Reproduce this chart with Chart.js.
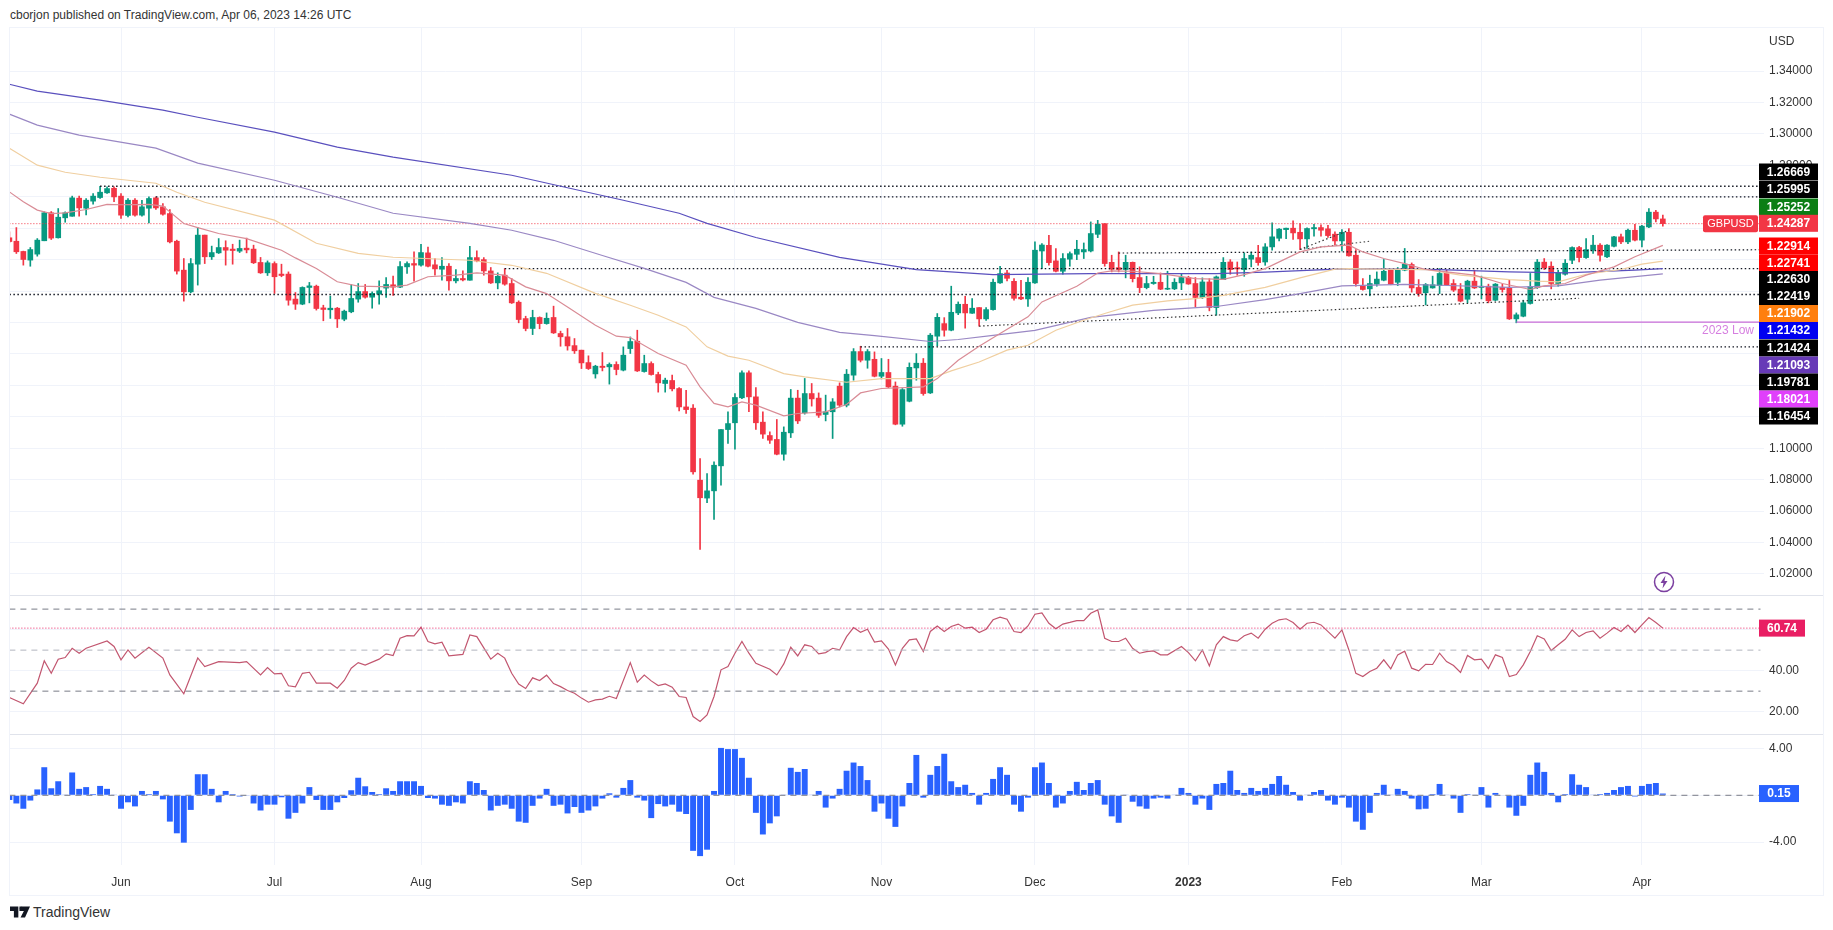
<!DOCTYPE html>
<html>
<head>
<meta charset="utf-8">
<title>GBPUSD</title>
<script src="https://cdn.jsdelivr.net/npm/chart.js@4/dist/chart.umd.js"></script>
<style>
    html, body { margin: 0; background: #fff; width: 1833px; height: 930px; overflow: hidden; font-family: "Liberation Sans", sans-serif; color: #131722; }
    canvas { position: absolute; left: 0; }
    .txt { position: absolute; font-size: 12px; white-space: nowrap; }
    .rule { position: absolute; left: 10px; width: 1813px; height: 1px; background: #e0e3eb; }
    #strip { position: absolute; left: 0; top: 27px; width: 9px; height: 869px; background: #fff; }
    #frame { position: absolute; left: 9px; top: 27px; width: 1813px; height: 867px; border: 1px solid #f0f3fa; pointer-events: none; }
</style>
</head>
<body>
<canvas id="priceChart" width="1833" height="569" style="top:27px"></canvas>
<canvas id="rsiChart" width="1833" height="138" style="top:596px"></canvas>
<canvas id="macdChart" width="1833" height="161" style="top:734px"></canvas>
<div id="strip"></div>
<div id="frame"></div>
<div class="rule" style="top:595px"></div>
<div class="rule" style="top:734px"></div>
<div class="txt" style="left:10px;top:8px;color:#333">cborjon published on TradingView.com, Apr 06, 2023 14:26 UTC</div>
<div class="txt" style="left:1769px;top:34px;color:#333">USD</div>
<svg style="position:absolute;left:1653px;top:571px" width="22" height="22" viewBox="0 0 22 22">
    <circle cx="11" cy="11" r="9.5" fill="#fff" stroke="#7b3fa0" stroke-width="1.5"/>
    <path d="M12.5 4.5 L7.5 12 H10.5 L9.5 17.5 L14.5 10 H11.5 Z" fill="#7b3fa0"/>
</svg>
<svg style="position:absolute;left:10px;top:906px" width="20" height="12" viewBox="0 0 36 20">
    <path d="M0 0 H15 V20 H7 V8 H0 Z M17 0 H36 L27 20 H19 L25 8 H17 Z" fill="#131722"/>
    <circle cx="21" cy="4" r="3.5" fill="#131722"/>
</svg>
<div class="txt" style="left:33px;top:904px;font-size:14px;color:#333">TradingView</div>

<script>
const barCount = 252;
const monthDays = [16, 38, 59, 82, 104, 125, 147, 169, 191, 211, 234];
const monthNames = ['Jun', 'Jul', 'Aug', 'Sep', 'Oct', 'Nov', 'Dec', '2023', 'Feb', 'Mar', 'Apr'];

const opens = [1.2339,1.2317,1.2252,1.2197,1.2235,1.2320,1.2498,1.2339,1.2466,1.2476,
    1.2591,1.2527,1.2572,1.2595,1.2625,1.2654,1.2604,1.2481,1.2578,1.2483,
    1.2527,1.2593,1.2536,1.2493,1.2317,1.2133,1.1995,1.2171,1.2356,1.2218,
    1.2243,1.2277,1.2267,1.2254,1.2273,1.2267,1.2182,1.2116,1.2175,1.2108,
    1.2108,1.1949,1.1917,1.2023,1.2031,1.1893,1.1881,1.1891,1.1821,1.1868,
    1.1949,1.1997,1.1961,1.1980,1.2019,1.2040,1.2025,1.2154,1.2175,1.2165,
    1.2243,1.2167,1.2139,1.2158,1.2065,1.2080,1.2069,1.2213,1.2200,1.2128,
    1.2052,1.2101,1.2048,1.1929,1.1825,1.1762,1.1832,1.1793,1.1832,1.1730,
    1.1709,1.1653,1.1624,1.1545,1.1473,1.1522,1.1518,1.1533,1.1497,1.1634,
    1.1681,1.1488,1.1539,1.1469,1.1412,1.1431,1.1380,1.1263,1.1255,1.0797,
    1.0683,1.0729,1.0888,1.1119,1.1162,1.1321,1.1480,1.1327,1.1166,1.1081,
    1.1056,1.0962,1.1098,1.1319,1.1225,1.1348,1.1319,1.1215,1.1232,1.1395,
    1.1274,1.1465,1.1615,1.1560,1.1566,1.1458,1.1482,1.1395,1.1153,1.1299,
    1.1511,1.1541,1.1352,1.1713,1.1793,1.1751,1.1861,1.1916,1.1859,1.1895,
    1.1823,1.1882,1.2052,1.2115,1.2062,1.1961,1.1950,1.2052,1.2255,1.2291,
    1.2192,1.2126,1.2203,1.2234,1.2249,1.2255,1.2361,1.2429,1.2183,1.2149,
    1.2137,1.2183,1.2086,1.2022,1.2048,1.2056,1.2012,1.2014,1.2052,1.2086,
    1.2048,1.1959,1.2058,1.1895,1.2073,1.2185,1.2149,1.2137,1.2203,1.2213,
    1.2185,1.2281,1.2336,1.2391,1.2400,1.2374,1.2332,1.2396,1.2404,1.2396,
    1.2362,1.2319,1.2374,1.2228,1.2035,1.2014,1.2044,1.2069,1.2133,1.2056,
    1.2133,1.2169,1.2023,1.1989,1.2020,1.2035,1.2116,1.2048,1.2012,1.1948,
    1.2063,1.2023,1.2031,1.1942,1.2023,1.2018,1.1823,1.1840,1.1921,1.2023,
    1.2184,1.2158,1.2048,1.2107,1.2196,1.2277,1.2213,1.2260,1.2292,1.2218,
    1.2285,1.2345,1.2313,1.2387,1.2324,1.2408,1.2502,1.2459];

const highs = [1.2377,1.2404,1.2254,1.2277,1.2334,1.2504,1.2506,1.2525,1.2504,1.2604,
    1.2604,1.2589,1.2621,1.2667,1.2663,1.2663,1.2621,1.2589,1.2589,1.2578,
    1.2599,1.2599,1.2557,1.2519,1.2324,1.2207,1.2207,1.2404,1.2356,1.2286,
    1.2334,1.2320,1.2298,1.2324,1.2337,1.2292,1.2214,1.2192,1.2186,1.2171,
    1.2122,1.1991,1.2027,1.2055,1.2038,1.1910,1.1968,1.1896,1.1879,1.2042,
    1.2048,1.2042,1.1995,1.2065,1.2086,1.2095,1.2188,1.2186,1.2250,1.2298,
    1.2280,1.2207,1.2213,1.2175,1.2137,1.2128,1.2285,1.2256,1.2213,1.2150,
    1.2116,1.2143,1.2080,1.1938,1.1840,1.1878,1.1836,1.1861,1.1904,1.1745,
    1.1762,1.1698,1.1624,1.1588,1.1528,1.1609,1.1543,1.1550,1.1645,1.1708,
    1.1751,1.1592,1.1550,1.1484,1.1446,1.1465,1.1386,1.1369,1.1278,1.0935,
    1.0839,1.0914,1.1119,1.1232,1.1348,1.1492,1.1492,1.1386,1.1232,1.1104,
    1.1183,1.1136,1.1374,1.1369,1.1444,1.1412,1.1352,1.1338,1.1316,1.1416,
    1.1501,1.1634,1.1649,1.1628,1.1613,1.1571,1.1566,1.1422,1.1380,1.1543,
    1.1602,1.1571,1.1730,1.1857,1.1831,1.2031,1.1931,1.1967,1.1952,1.1895,
    1.1895,1.2077,1.2158,1.2132,1.2079,1.2069,1.2086,1.2313,1.2302,1.2355,
    1.2270,1.2238,1.2249,1.2323,1.2306,1.2440,1.2450,1.2429,1.2228,1.2249,
    1.2228,1.2185,1.2154,1.2094,1.2094,1.2115,1.2126,1.2079,1.2111,1.2094,
    1.2086,1.2084,1.2079,1.2096,1.2213,1.2200,1.2185,1.2243,1.2249,1.2291,
    1.2302,1.2434,1.2398,1.2400,1.2447,1.2430,1.2402,1.2425,1.2421,1.2419,
    1.2377,1.2391,1.2398,1.2264,1.2080,1.2101,1.2122,1.2201,1.2139,1.2150,
    1.2271,1.2179,1.2073,1.2048,1.2095,1.2143,1.2133,1.2073,1.2048,1.2069,
    1.2133,1.2095,1.2044,1.2048,1.2044,1.2069,1.1861,1.1942,1.2112,1.2201,
    1.2207,1.2186,1.2133,1.2201,1.2281,1.2285,1.2334,1.2355,1.2302,1.2296,
    1.2349,1.2362,1.2394,1.2425,1.2419,1.2525,1.2514,1.2483];

const lows = [1.2307,1.2239,1.2165,1.2158,1.2222,1.2320,1.2328,1.2337,1.2438,1.2476,
    1.2476,1.2485,1.2553,1.2589,1.2621,1.2568,1.2462,1.2472,1.2476,1.2476,
    1.2434,1.2519,1.2483,1.2307,1.2108,1.1936,1.1989,1.2038,1.2175,1.2201,
    1.2239,1.2165,1.2171,1.2245,1.2243,1.2175,1.2112,1.2099,1.1985,1.2091,
    1.1910,1.1883,1.1913,1.1925,1.1879,1.1811,1.1826,1.1768,1.1811,1.1862,
    1.1929,1.1955,1.1891,1.1917,1.1959,1.1972,1.2021,1.2112,1.2063,1.2158,
    1.2154,1.2101,1.2069,1.2005,1.2052,1.2065,1.2069,1.2186,1.2101,1.2048,
    1.2014,1.2037,1.1921,1.1798,1.1747,1.1723,1.1760,1.1789,1.1730,1.1649,
    1.1624,1.1603,1.1507,1.1501,1.1446,1.1492,1.1408,1.1467,1.1492,1.1603,
    1.1488,1.1484,1.1465,1.1357,1.1357,1.1365,1.1238,1.1221,1.0835,1.0356,
    1.0653,1.0547,1.0765,1.1030,1.0994,1.1316,1.1232,1.1119,1.1062,1.1030,
    1.0958,1.0924,1.1068,1.1157,1.1217,1.1268,1.1196,1.1174,1.1062,1.1263,
    1.1263,1.1433,1.1549,1.1509,1.1454,1.1441,1.1386,1.1149,1.1140,1.1295,
    1.1433,1.1337,1.1348,1.1651,1.1713,1.1747,1.1850,1.1764,1.1857,1.1776,
    1.1814,1.1878,1.2048,1.2065,1.1942,1.1946,1.1903,1.2048,1.2143,1.2164,
    1.2122,1.2107,1.2158,1.2200,1.2207,1.2249,1.2340,1.2158,1.2122,1.2122,
    1.2084,1.2058,1.1990,1.2014,1.2043,1.2009,1.2009,1.2009,1.2009,1.2043,
    1.1899,1.1952,1.1874,1.1846,1.2073,1.2107,1.2101,1.2094,1.2154,1.2164,
    1.2164,1.2260,1.2319,1.2334,1.2328,1.2264,1.2271,1.2349,1.2349,1.2341,
    1.2292,1.2256,1.2222,1.2031,1.2006,1.1970,1.2031,1.2065,1.2040,1.2035,
    1.2129,1.1993,1.1967,1.1912,1.2018,1.1984,1.2035,1.1997,1.1931,1.1925,
    1.2016,1.1950,1.1925,1.1938,1.1993,1.1819,1.1798,1.1836,1.1917,1.2016,
    1.2137,1.2014,1.2031,1.2101,1.2175,1.2186,1.2207,1.2239,1.2190,1.2213,
    1.2281,1.2302,1.2302,1.2319,1.2281,1.2404,1.2440,1.2413];

const closes = [1.2315,1.2250,1.2201,1.2264,1.2324,1.2498,1.2337,1.2470,1.2498,1.2593,
    1.2529,1.2578,1.2604,1.2629,1.2652,1.2599,1.2483,1.2578,1.2483,1.2536,
    1.2589,1.2529,1.2489,1.2313,1.2127,1.1995,1.2175,1.2356,1.2218,1.2245,
    1.2277,1.2260,1.2258,1.2271,1.2262,1.2180,1.2116,1.2180,1.2091,1.2099,
    1.1942,1.1917,1.2023,1.2033,1.1889,1.1883,1.1891,1.1823,1.1872,1.1953,
    1.1997,1.1961,1.1985,1.2002,1.2042,1.2025,1.2156,1.2175,1.2165,1.2245,
    1.2158,1.2141,1.2158,1.2065,1.2080,1.2071,1.2213,1.2192,1.2128,1.2052,
    1.2094,1.2044,1.1925,1.1819,1.1762,1.1832,1.1793,1.1827,1.1734,1.1709,
    1.1651,1.1620,1.1543,1.1507,1.1522,1.1514,1.1533,1.1501,1.1592,1.1679,
    1.1492,1.1539,1.1469,1.1416,1.1433,1.1378,1.1263,1.1246,1.0850,1.0685,
    1.0729,1.0892,1.1119,1.1157,1.1323,1.1480,1.1327,1.1162,1.1090,1.1051,
    1.0962,1.1102,1.1319,1.1174,1.1348,1.1314,1.1210,1.1232,1.1295,1.1274,
    1.1471,1.1615,1.1560,1.1615,1.1458,1.1482,1.1390,1.1153,1.1373,1.1515,
    1.1541,1.1348,1.1719,1.1833,1.1751,1.1865,1.1916,1.1861,1.1891,1.1823,
    1.1882,1.2056,1.2111,1.2081,1.1954,1.1950,1.2056,1.2260,1.2293,1.2181,
    1.2126,1.2207,1.2238,1.2266,1.2264,1.2366,1.2425,1.2175,1.2139,1.2137,
    1.2183,1.2079,1.2022,1.2048,1.2056,1.2012,1.2018,1.2056,1.2086,1.2045,
    1.1959,1.2058,1.1895,1.2090,1.2183,1.2137,1.2141,1.2207,1.2228,1.2181,
    1.2281,1.2345,1.2394,1.2400,1.2370,1.2332,1.2398,1.2404,1.2387,1.2353,
    1.2319,1.2374,1.2224,1.2048,1.2010,1.2048,1.2076,1.2126,1.2044,1.2137,
    1.2171,1.2020,1.1984,1.2042,1.2040,1.2112,1.2040,1.2006,1.1936,1.2063,
    1.2020,1.2031,1.1938,1.2044,1.2010,1.1823,1.1849,1.1925,1.2029,1.2184,
    1.2148,1.2048,1.2116,1.2177,1.2277,1.2213,1.2264,1.2292,1.2228,1.2292,
    1.2345,1.2313,1.2387,1.2324,1.2413,1.2502,1.2459,1.2429];

const ema20Days = [0,2,4,6,8,11,14,16,20,22,23,25,27,30,34,39,41,44,47,50,55,57,60,64,67,71,74,77,80,84,87,89,93,97,99,101,103,105,107,111,113,117,120,122,125,131,133,136,139,142,146,148,153,156,158,161,165,170,174,177,180,185,188,192,194,197,200,203,206,210,214,218,220,223,226,230,233,237];
const ema20Values = [1.2631,1.2568,1.2515,1.2493,1.2498,1.2519,1.2551,1.2549,1.2551,1.2540,1.2504,1.2430,1.2404,1.2366,1.2334,1.2260,1.2211,1.2144,1.2059,1.2031,1.2027,1.2038,1.2091,1.2101,1.2116,1.2101,1.2027,1.1984,1.1899,1.1783,1.1713,1.1704,1.1603,1.1528,1.1391,1.1285,1.1263,1.1295,1.1274,1.1206,1.1221,1.1232,1.1278,1.1352,1.1380,1.1390,1.1443,1.1560,1.1649,1.1730,1.1836,1.1931,1.2031,1.2115,1.2128,1.2126,1.2111,1.2079,1.2075,1.2105,1.2143,1.2249,1.2281,1.2292,1.2249,1.2207,1.2175,1.2137,1.2122,1.2101,1.2048,1.2010,1.2033,1.2048,1.2101,1.2154,1.2218,1.2291];

const ema50Days = [0,4,8,13,21,24,28,38,44,50,55,66,72,77,84,89,93,97,100,103,106,111,114,120,125,132,135,139,143,146,150,154,157,161,166,170,174,180,185,190,192,196,203,208,215,219,222,226,231,234,237];
const ema50Values = [1.2909,1.2801,1.2756,1.2724,1.2686,1.2629,1.2565,1.2451,1.2304,1.2240,1.2215,1.2196,1.2164,1.2113,1.1985,1.1910,1.1846,1.1772,1.1645,1.1586,1.1560,1.1475,1.1454,1.1420,1.1443,1.1443,1.1492,1.1549,1.1624,1.1655,1.1751,1.1814,1.1857,1.1910,1.1937,1.1952,1.1973,1.2023,1.2084,1.2139,1.2143,1.2139,1.2137,1.2101,1.2073,1.2063,1.2059,1.2107,1.2137,1.2171,1.2190];

const ema100Days = [0,4,10,21,27,38,47,55,66,72,78,85,91,97,101,107,113,119,124,132,136,141,147,155,164,173,180,185,191,200,205,215,222,228,237];
const ema100Values = [1.3126,1.3056,1.2992,1.2909,1.2814,1.2705,1.2597,1.2495,1.2431,1.2387,1.2323,1.2226,1.2144,1.2055,1.1960,1.1890,1.1801,1.1737,1.1717,1.1679,1.1692,1.1718,1.1750,1.1833,1.1877,1.1902,1.1946,1.1984,1.2033,1.2042,1.2037,1.2023,1.2033,1.2069,1.2109];

const ema200Days = [0,4,13,22,27,38,47,55,72,88,96,100,107,119,130,141,155,173,180,192,205,215,223,233,237];
const ema200Values = [1.3316,1.3272,1.3215,1.3151,1.3106,1.3011,1.2916,1.2852,1.2737,1.2578,1.2495,1.2431,1.2341,1.2214,1.2137,1.2105,1.2111,1.2111,1.2120,1.2143,1.2137,1.2122,1.2116,1.2133,1.2143];

const rsiDays = [0,2,4,5,6,7,8,9,10,11,14,15,16,17,18,20,22,23,25,27,28,30,33,34,36,37,38,39,40,41,42,43,44,46,47,48,49,50,51,53,54,55,56,57,58,59,60,61,62,63,65,66,67,69,70,71,72,73,74,75,76,77,78,79,80,81,82,83,84,85,86,87,89,90,91,92,93,94,95,96,97,98,99,100,101,102,103,104,105,106,107,109,110,111,112,113,114,115,116,117,118,119,120,121,122,123,124,125,126,127,128,129,130,131,132,133,134,135,136,137,138,139,140,141,142,143,144,145,146,147,148,149,150,151,152,153,154,155,156,157,158,159,160,161,162,163,164,165,166,168,169,170,171,172,173,174,175,176,177,178,179,180,181,182,183,184,185,186,187,188,190,191,192,193,194,195,196,197,198,199,200,201,202,203,204,205,206,207,208,209,210,211,212,213,214,215,216,217,218,219,220,221,222,223,224,225,226,227,228,229,230,231,232,233,234,235,236,237];
const rsiValues = [26.9,23.8,33.9,44.8,38.7,45.6,46.4,50.9,48.5,50.9,54.5,51.8,45.3,50.1,46.1,51.4,46.1,37.9,28.7,46.2,42.0,44.4,43.9,44.4,37.9,41.5,38.4,38.7,32.6,32.1,38.7,39.2,33.9,33.9,31.4,35.2,41.2,43.9,42.7,45.6,48.2,47.4,55.8,57.1,57.0,61.2,54.2,53.1,53.9,47.2,47.9,57.4,56.6,45.6,48.5,46.1,38.7,33.5,31.3,36.5,35.2,37.8,33.7,32.2,30.3,29.0,26.6,24.6,25.7,26.1,27.5,26.4,43.9,34.4,37.8,35.0,32.7,33.5,31.9,27.4,26.9,17.6,15.2,18.4,27.4,40.4,42.0,48.5,54.2,48.5,43.6,40.7,37.9,43.3,51.4,47.2,52.6,51.8,48.2,48.8,50.9,50.1,56.6,61.0,58.7,60.2,53.9,54.5,50.5,42.8,50.9,55.0,55.5,49.3,59.1,61.8,59.1,61.5,62.7,60.7,61.2,58.6,60.2,64.8,66.1,65.1,59.1,58.6,61.8,67.5,68.2,63.1,60.4,62.7,63.5,64.4,64.4,68.0,69.6,55.8,54.2,54.2,55.8,50.9,48.5,49.3,49.6,47.7,47.7,51.8,48.8,44.8,50.1,42.3,52.6,56.6,55.0,54.4,57.0,58.3,55.8,60.2,63.1,64.8,65.3,63.5,60.2,63.1,63.6,62.3,55.8,59.9,50.1,38.7,37.1,39.6,41.2,45.3,40.9,47.7,49.5,41.2,39.9,43.1,43.0,48.5,44.4,42.5,39.1,47.4,45.3,45.6,41.0,47.7,46.4,37.1,38.1,42.8,49.3,57.0,55.5,49.8,52.6,55.3,59.9,56.6,58.6,59.4,55.8,58.3,61.0,59.1,62.2,58.6,62.3,65.9,63.5,60.74];

const macdValues = [-0.4,-0.7,-1.15,-0.45,0.5,2.4,0.6,1.2,0.03,1.95,0.55,0.7,0.1,0.8,0.55,0.03,-1.15,-0.6,-0.95,0.37,
    0.1,0.37,-0.35,-2.25,-3.25,-4.05,-1.25,1.8,1.8,0.55,-0.6,0.37,0.1,-0.1,-0.03,-0.7,-1.3,-0.8,-0.8,-0.17,
    -2.0,-1.5,-0.7,0.7,-0.4,-1.25,-1.25,-0.6,-0.23,0.43,1.5,0.77,0.28,0.1,0.6,0.37,1.2,1.2,1.2,0.8,
    -0.23,-0.28,-0.8,-0.9,-0.6,-0.7,1.2,1.05,0.45,-1.3,-0.9,-0.8,-1.15,-2.25,-2.35,-0.9,-0.28,0.55,-0.9,-0.8,
    -1.55,-1.0,-1.5,-1.3,-0.95,-0.28,0.17,-0.2,0.63,1.3,-0.2,-0.45,-1.95,-0.75,-0.95,-0.8,-1.4,-1.6,-4.75,-5.2,
    -4.65,0.37,4.05,3.95,3.95,3.2,1.5,-1.5,-3.35,-2.4,-1.8,0.03,2.35,2.0,2.25,0.03,0.37,-1.05,-0.28,0.55,
    2.1,2.8,2.5,1.3,-1.4,-0.7,-2.0,-2.7,-0.95,1.05,3.45,-0.2,1.75,2.5,3.55,1.2,0.7,0.9,0.2,-0.8,
    0.2,1.4,2.4,1.75,-0.8,-1.4,-0.2,2.4,2.8,1.05,-1.05,-0.7,0.37,1.15,0.45,1.05,1.3,-0.8,-1.8,-2.35,
    0.03,-0.55,-0.95,-1.15,-0.28,-0.2,-0.28,0.03,0.63,0.2,-0.8,-0.28,-1.25,0.97,1.05,2.1,0.45,0.2,0.63,0.37,
    0.63,0.97,1.65,0.9,0.28,-0.45,0.03,0.28,0.45,-0.45,-0.8,-0.2,-1.05,-2.25,-2.95,-1.5,0.2,0.9,0.03,0.55,
    0.37,-0.28,-1.2,-1.15,0.1,0.97,0.03,-0.28,-1.5,0.1,0.03,0.7,-1.05,0.2,-0.05,-1.05,-1.75,-0.9,1.75,2.8,
    2.0,0.2,-0.6,0.1,1.8,0.9,0.7,0.03,0.1,0.2,0.45,0.7,0.8,-0.1,0.8,0.97,1.05,0.15];

const priceTicks = [1.02, 1.04, 1.06, 1.08, 1.10, 1.12, 1.14, 1.16, 1.18, 1.20, 1.22, 1.24, 1.26, 1.28, 1.30, 1.32, 1.34];
const rsiTicks = [20, 40, 60];
const macdTicks = [-4, 0, 4];

// horizontal levels: price and the day they start on
const levelPrices = [1.26669, 1.25995, 1.21424, 1.19781, 1.16454];
const levelStarts = [13, 21, 71, 0, 122];
const lastPrice = 1.24287;
const yearLow = 1.18021;
const yearLowStart = 216;

// hand drawn trend lines: first day, first price, last day, last price
const supportLine = [139, 1.1777, 225, 1.1954];
const februaryTop = [159, 1.2242, 251, 1.2263];
const januaryRise = [185, 1.2265, 192, 1.2387];
const januaryFlat = [185, 1.2265, 195, 1.2317];

const tagValues = [1.26669, 1.25995, 1.25252, 1.24287, 1.22914, 1.22741, 1.22630, 1.22419, 1.21902, 1.21432, 1.21424, 1.21093, 1.19781, 1.18021, 1.16454];
const tagColors = ['#000', '#000', '#0b7e14', '#f23645', '#f00', '#f00', '#000', '#000', '#ff7f0e', '#0000f0', '#000', '#673ab7', '#000', '#e040fb', '#000'];
const tagRows = [172, 189.5, 207, 223.3, 246, 263, 279.5, 296.5, 313.5, 330.5, 348, 365, 382, 399, 416];
const rsiLast = 60.74;
const macdLast = 0.15;

const FONT = '"Liberation Sans", sans-serif';
const CANDLE_UP = '#089981';
const CANDLE_DOWN = '#f23645';
const GRID = '#f0f3fa';

Chart.defaults.font.family = FONT;
Chart.defaults.font.size = 12;
Chart.defaults.color = '#333';
Chart.defaults.animation = false;

const labels = Array(barCount).fill('');
monthDays.forEach((day, i) => { labels[day] = monthNames[i]; });

// puts read values on their days, the gaps are spanned by the line
function onDays(days, values) {
    const out = Array(barCount).fill(null);
    days.forEach((day, i) => { out[day] = values[i]; });
    return out;
}

function lineSet(days, values, color, width, dash) {
    return {
        type: 'line', data: onDays(days, values), borderColor: color, borderWidth: width,
        borderDash: dash || [], pointRadius: 0, spanGaps: true, tension: 0, order: 1
    };
}

function level(value, start, color, width, dash) {
    return lineSet([start, barCount - 1], [value, value], color, width, dash);
}

function trend(line, color) {
    return lineSet([line[0], line[2]], [line[1], line[3]], color, 1.2, [1.5, 2.5]);
}

function xAxis(showLabels) {
    return {
        type: 'category', offset: true,
        border: { display: false },
        grid: {
            offset: false, drawTicks: false,
            color: ctx => monthDays.includes(ctx.index) ? GRID : 'transparent'
        },
        ticks: {
            display: showLabels, autoSkip: false, maxRotation: 0, padding: 10,
            color: '#333',
            font: ctx => ({ family: FONT, size: 12, weight: ctx.tick && ctx.tick.label === '2023' ? 'bold' : 'normal' })
        },
        afterFit: scale => {
            scale.height = showLabels ? 30 : 0;
            scale.paddingLeft = 0;
            scale.paddingRight = 0;
        }
    };
}

// the labels behind the price tags are left out
function yAxis(min, max, ticks, digits, hideLabel) {
    return {
        position: 'right', min, max,
        border: { display: false },
        grid: { color: GRID, drawTicks: false },
        ticks: { padding: 5, color: '#333', callback: v => (hideLabel && hideLabel(v)) ? '' : v.toFixed(digits) },
        afterBuildTicks: scale => { scale.ticks = ticks.map(value => ({ value })); },
        afterFit: scale => {
            scale.width = 69;
            scale.paddingTop = 0;
            scale.paddingBottom = 0;
        }
    };
}

function drawTag(ctx, x, y, w, text, color) {
    ctx.fillStyle = color;
    ctx.fillRect(x, y - 8.5, w, 17);
    ctx.fillStyle = '#fff';
    ctx.font = 'bold 12px ' + FONT;
    ctx.textAlign = 'center';
    ctx.textBaseline = 'middle';
    ctx.fillText(text, x + w / 2, y + 0.5);
}

const priceTags = {
    id: 'priceTags',
    afterDraw(chart) {
        const { ctx, scales } = chart;
        const top = chart.canvas.getBoundingClientRect().top;
        ctx.save();
        tagValues.forEach((v, i) => drawTag(ctx, 1759, tagRows[i] - top, 59, v.toFixed(5), tagColors[i]));
        ctx.fillStyle = CANDLE_DOWN;
        ctx.beginPath();
        ctx.roundRect(1703, scales.y.getPixelForValue(lastPrice) - 8.5, 55, 17, 2);
        ctx.fill();
        ctx.fillStyle = '#fff';
        ctx.font = '11px ' + FONT;
        ctx.textAlign = 'center';
        ctx.textBaseline = 'middle';
        ctx.fillText('GBPUSD', 1730.5, scales.y.getPixelForValue(lastPrice) + 0.5);
        ctx.fillStyle = '#d67fe0';
        ctx.font = '12px ' + FONT;
        ctx.fillText('2023 Low', 1728, scales.y.getPixelForValue(yearLow) + 9);
        ctx.restore();
    }
};

const rsiTag = {
    id: 'rsiTag',
    afterDraw(chart) {
        chart.ctx.save();
        drawTag(chart.ctx, 1759, chart.scales.y.getPixelForValue(rsiLast), 46, rsiLast.toFixed(2), '#e91e63');
        chart.ctx.restore();
    }
};

const macdTag = {
    id: 'macdTag',
    afterDraw(chart) {
        chart.ctx.save();
        drawTag(chart.ctx, 1759, chart.scales.y.getPixelForValue(macdLast), 40, macdLast.toFixed(2), '#2962ff');
        chart.ctx.restore();
    }
};

const candleColors = opens.map((o, i) => closes[i] >= o ? CANDLE_UP : CANDLE_DOWN);

new Chart(document.getElementById('priceChart'), {
    type: 'bar',
    plugins: [priceTags],
    data: {
        labels,
        datasets: [
            { data: lows.map((l, i) => [l, highs[i]]), backgroundColor: candleColors, barThickness: 1, grouped: false, order: 3 },
            { data: opens.map((o, i) => [o, closes[i]]), backgroundColor: candleColors, barThickness: 5, grouped: false, order: 2 },
            lineSet(ema20Days, ema20Values, '#d98c96', 1.2),
            lineSet(ema50Days, ema50Values, '#f0cfa0', 1.2),
            lineSet(ema100Days, ema100Values, '#9a88c4', 1.2),
            lineSet(ema200Days, ema200Values, '#5a50be', 1.2),
            ...levelPrices.map((p, i) => level(p, levelStarts[i], '#131722', 1.3, [1.5, 2.5])),
            level(lastPrice, 0, '#f23645', 1, [1, 2]),
            level(yearLow, yearLowStart, '#c86dd7', 1.4),
            trend(supportLine, '#333'),
            trend(februaryTop, '#131722'),
            trend(januaryRise, '#333'),
            trend(januaryFlat, '#555')
        ]
    },
    options: {
        responsive: false,
        devicePixelRatio: 1,
        layout: { padding: { left: 5.9 } },
        plugins: { legend: { display: false }, tooltip: { enabled: false } },
        scales: {
            x: xAxis(false),
            y: yAxis(1.0060, 1.3680, priceTicks, 5, v => v > 1.11 && v < 1.27)
        }
    }
});

new Chart(document.getElementById('rsiChart'), {
    type: 'line',
    plugins: [rsiTag],
    data: {
        labels,
        datasets: [
            level(70, 0, '#787b86', 1, [6, 5]),
            level(50, 0, '#b2b5be', 1, [6, 5]),
            level(30, 0, '#787b86', 1, [6, 5]),
            level(rsiLast, 0, '#e91e63', 1, [1, 2]),
            lineSet(rsiDays, rsiValues, '#c2566f', 1.2)
        ]
    },
    options: {
        responsive: false,
        devicePixelRatio: 1,
        layout: { padding: { left: 5.9 } },
        plugins: { legend: { display: false }, tooltip: { enabled: false } },
        scales: { x: xAxis(false), y: yAxis(9.1, 76.4, rsiTicks, 2, v => v === 60) }
    }
});

new Chart(document.getElementById('macdChart'), {
    type: 'bar',
    plugins: [macdTag],
    data: {
        labels,
        datasets: [
            { data: macdValues, backgroundColor: '#2962ff', barPercentage: 0.85, categoryPercentage: 1, grouped: false, order: 2 },
            level(0, 0, '#787b86', 1, [6, 5])
        ]
    },
    options: {
        responsive: false,
        devicePixelRatio: 1,
        layout: { padding: { left: 5.9 } },
        plugins: { legend: { display: false }, tooltip: { enabled: false } },
        scales: { x: xAxis(true), y: yAxis(-5.96, 5.24, macdTicks, 2, v => v === 0) }
    }
});
</script>
</body>
</html>
